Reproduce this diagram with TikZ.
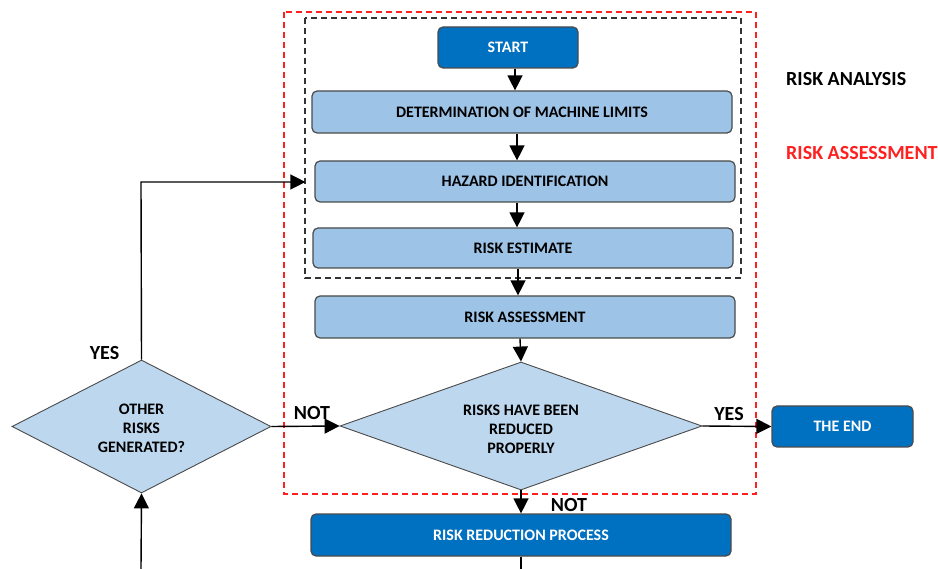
\documentclass[tikz,border=0pt]{standalone}
\usepackage{fontspec}
\setmainfont{Carlito}
\usetikzlibrary{arrows.meta,shapes.geometric}
\definecolor{dblue}{HTML}{0070C0}
\definecolor{lblue}{HTML}{9DC3E6}
\definecolor{dlblue}{HTML}{BDD7EE}
\definecolor{edge}{HTML}{4A4A4A}
\definecolor{rred}{HTML}{FF2020}
\tikzset{
  every node/.style={font=\bfseries\fontsize{16}{19}\selectfont},
  stepbox/.style={draw=edge, line width=1.2pt, rounded corners=5pt, fill=lblue, inner sep=0pt, text depth=0pt},
  darkbox/.style={draw=edge, line width=1.2pt, rounded corners=5pt, fill=dblue, text=white, inner sep=0pt, text depth=0pt},
  decision/.style={draw=edge, line width=0.9pt, fill=dlblue, diamond, inner sep=0pt, align=center},
  conn/.style={line width=1.4pt, -{Triangle[width=15pt,length=15pt]}},
  plain/.style={line width=1.4pt},
  lbl/.style={font=\bfseries\fontsize{20}{22}\selectfont, inner sep=0pt},
}
\begin{document}
\begin{tikzpicture}[x=1pt,y=-1pt]
\useasboundingbox (0,0) rectangle (938,569);
% frames
\draw[rred, line width=1.5pt, dash pattern=on 6pt off 4pt] (284,12) rectangle (756,494);
\draw[black!80, line width=1.5pt, dash pattern=on 6pt off 4pt] (305,18) rectangle (741,278);
% nodes
\node[darkbox, minimum width=140pt, minimum height=41pt] (start) at (508,47.5) {START};
\node[stepbox, minimum width=420pt, minimum height=42pt] (det) at (522,112) {DETERMINATION OF MACHINE LIMITS};
\node[stepbox, minimum width=420pt, minimum height=41pt] (haz) at (525,181.5) {HAZARD IDENTIFICATION};
\node[stepbox, minimum width=420pt, minimum height=40pt] (est) at (523,248) {RISK ESTIMATE};
\node[stepbox, minimum width=420pt, minimum height=42pt] (ass) at (525,317) {RISK ASSESSMENT};
\node[decision, minimum width=362pt, minimum height=128pt, aspect=2.83] (red) at (521,426) {};
\node[align=center] (redtxt) at (521,429) {RISKS HAVE BEEN\\REDUCED\\PROPERLY};
\node[darkbox, minimum width=141pt, minimum height=41pt] (end) at (842.5,426.5) {THE END};
\node[darkbox, minimum width=420pt, minimum height=42pt] (rrp) at (521,535) {RISK REDUCTION PROCESS};
\node[decision, minimum width=259pt, minimum height=133pt, aspect=1.95] (oth) at (141.5,426.5) {};
\node[align=center] (othtxt) at (141.5,428.5) {OTHER\\RISKS\\GENERATED?};
% side labels
\node[lbl, anchor=west] (ra) at (786,79) {RISK ANALYSIS};
\node[lbl, anchor=west, text=rred] (rass) at (786,153) {RISK ASSESSMENT};
% connectors
\draw[conn] (start.south -| 515,0) -- (det.north -| 515,0);
\draw[conn] (det.south -| 517,0) -- (haz.north -| 517,0);
\draw[conn] (haz.south -| 517,0) -- (est.north -| 517,0);
\draw[conn] (est.south -| 518,0) -- (ass.north -| 518,0);
\draw[conn] (ass.south -| 520,0) -- (red.north);
\draw[conn] (red.south) -- (rrp.north -| red.south);
\draw[conn] (red.east) -- (end.west);
\draw[conn] (oth.east) -- (red.west);
\draw[conn, shorten >=9pt] (oth.north) -- (141,182) -- (haz.west |- 0,182);
\coordinate (b1) at (521,569);
\coordinate (b2) at (141,569);
\draw[plain] (rrp.south -| b1) -- (b1);
\draw[conn] (b2) -- (oth.south);
% connector labels
\node[lbl] (yes1) at (104.5,353) {YES};
\node[lbl] (not1) at (312,413) {NOT};
\node[lbl] (yes2) at (729,414) {YES};
\node[lbl] (not2) at (569,505) {NOT};
\end{tikzpicture}
\end{document}
